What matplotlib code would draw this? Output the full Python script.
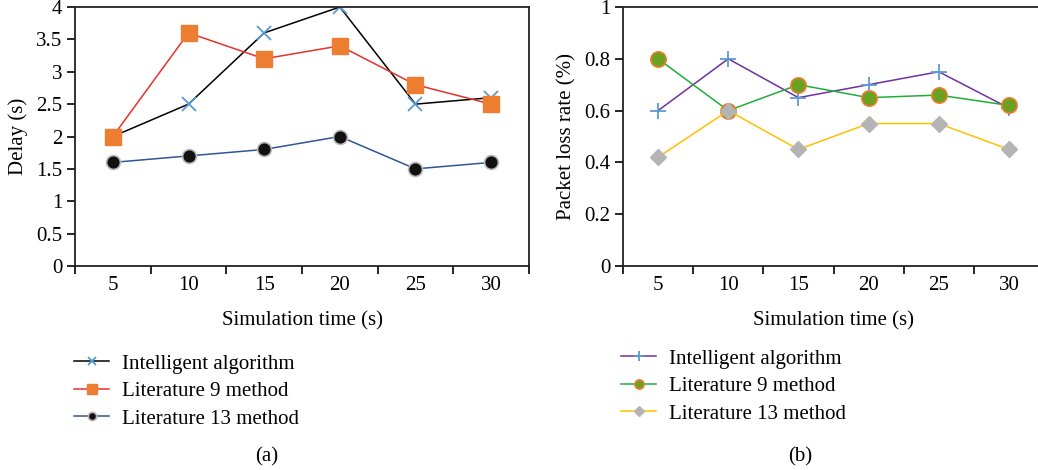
import matplotlib.pyplot as plt
import numpy as np

# data
times = [5, 10, 15, 20, 25, 30]

delay_intel = [2.0, 2.5, 3.6, 4.0, 2.5, 2.6]
delay_lit9 = [2.0, 3.6, 3.2, 3.4, 2.8, 2.5]
delay_lit13 = [1.6, 1.7, 1.8, 2.0, 1.5, 1.6]

loss_intel = [0.60, 0.80, 0.65, 0.70, 0.75, 0.61]
loss_lit9 = [0.80, 0.60, 0.70, 0.65, 0.66, 0.62]
loss_lit13 = [0.42, 0.60, 0.45, 0.55, 0.55, 0.45]

series_names = ["Intelligent algorithm", "Literature 9 method", "Literature 13 method"]

plt.rcParams['font.family'] = ['Liberation Serif', 'DejaVu Serif']
plt.rcParams['font.size'] = 15

W, H = 1038, 470
fig = plt.figure(figsize=(W / 100, H / 100), dpi=100)

def box(x0, y0, x1, y1):
    # pixel box -> figure fraction
    return [x0 / W, 1 - y1 / H, (x1 - x0) / W, (y1 - y0) / H]

ax1 = fig.add_axes(box(75, 7, 529, 266))
ax2 = fig.add_axes(box(623, 7, 1044, 266))

pos = np.arange(len(times)) + 0.5

def style_axis(ax):
    ax.set_xlim(0, len(times))
    ax.set_xticks(np.arange(len(times) + 1))
    ax.set_xticklabels([])
    ax.set_xticks(pos, minor=True)
    ax.set_xticklabels([str(t) for t in times], minor=True)
    ax.tick_params(axis='x', which='minor', length=0, pad=7)
    ax.tick_params(axis='x', which='major', length=6, width=1.2, direction='out')
    ax.tick_params(axis='y', length=6, width=1.2, direction='out', pad=3)
    for s in ax.spines.values():
        s.set_linewidth(1.3)
        s.set_color('#222222')
    ax.set_xlabel("Simulation time (s)", labelpad=12)

# (a) delay
ax1.plot(pos, delay_intel, color='black', lw=1.1, marker='x', ms=10, mew=1.3,
         mec='#5b9bd5', label=series_names[0], zorder=2)
ax1.plot(pos, delay_lit9, color='#e8302a', lw=1.1, marker='s', ms=11,
         mfc='#ed7d31', mec='#ed7d31', label=series_names[1], zorder=3)
ax1.plot(pos, delay_lit13, color='#2f5597', lw=1.1, marker='o', ms=10,
         mfc='#111111', mec='#bbbbbb', mew=1.2, label=series_names[2], zorder=4)
ax1.set_ylim(0, 4)
ax1.set_yticks(np.arange(0, 4.01, 0.5))
ax1.set_yticklabels(['0', '0.5', '1', '1.5', '2', '2.5', '3', '3.5', '4'])
ax1.set_ylabel("Delay (s)", labelpad=6)
style_axis(ax1)

# (b) packet loss
ax2.plot(pos, loss_intel, color='#7030a0', lw=1.1, marker='+', ms=12, mew=1.3,
         mec='#5b9bd5', label=series_names[0], zorder=2)
ax2.plot(pos, loss_lit9, color='#1fae3a', lw=1.1, marker='o', ms=11,
         mfc='#6aa121', mec='#ed7d31', mew=1.2, label=series_names[1], zorder=3)
ax2.plot(pos, loss_lit13, color='#ffc000', lw=1.1, marker='D', ms=8,
         mfc='#b4b4b4', mec='#b4b4b4', label=series_names[2], zorder=4)
ax2.set_ylim(0, 1)
ax2.set_yticks(np.arange(0, 1.01, 0.2))
ax2.set_yticklabels(['0', '0.2', '0.4', '0.6', '0.8', '1'])
ax2.set_ylabel("Packet loss rate (%)", labelpad=6)
style_axis(ax2)

leg_kw = dict(frameon=False, handlelength=1.7, handletextpad=0.6, markerscale=0.6,
              labelspacing=0.38, borderaxespad=0, borderpad=0, loc='upper left')
ax1.legend(bbox_to_anchor=(74 / W, 1 - 354 / H), bbox_transform=fig.transFigure, **leg_kw)
ax2.legend(bbox_to_anchor=(621 / W, 1 - 349 / H), bbox_transform=fig.transFigure, **leg_kw)

fig.text(267 / W, 1 - 457 / H, "(a)", ha='center', va='center')
fig.text(800 / W, 1 - 457 / H, "(b)", ha='center', va='center')

plt.savefig("out.png", dpi=100)
